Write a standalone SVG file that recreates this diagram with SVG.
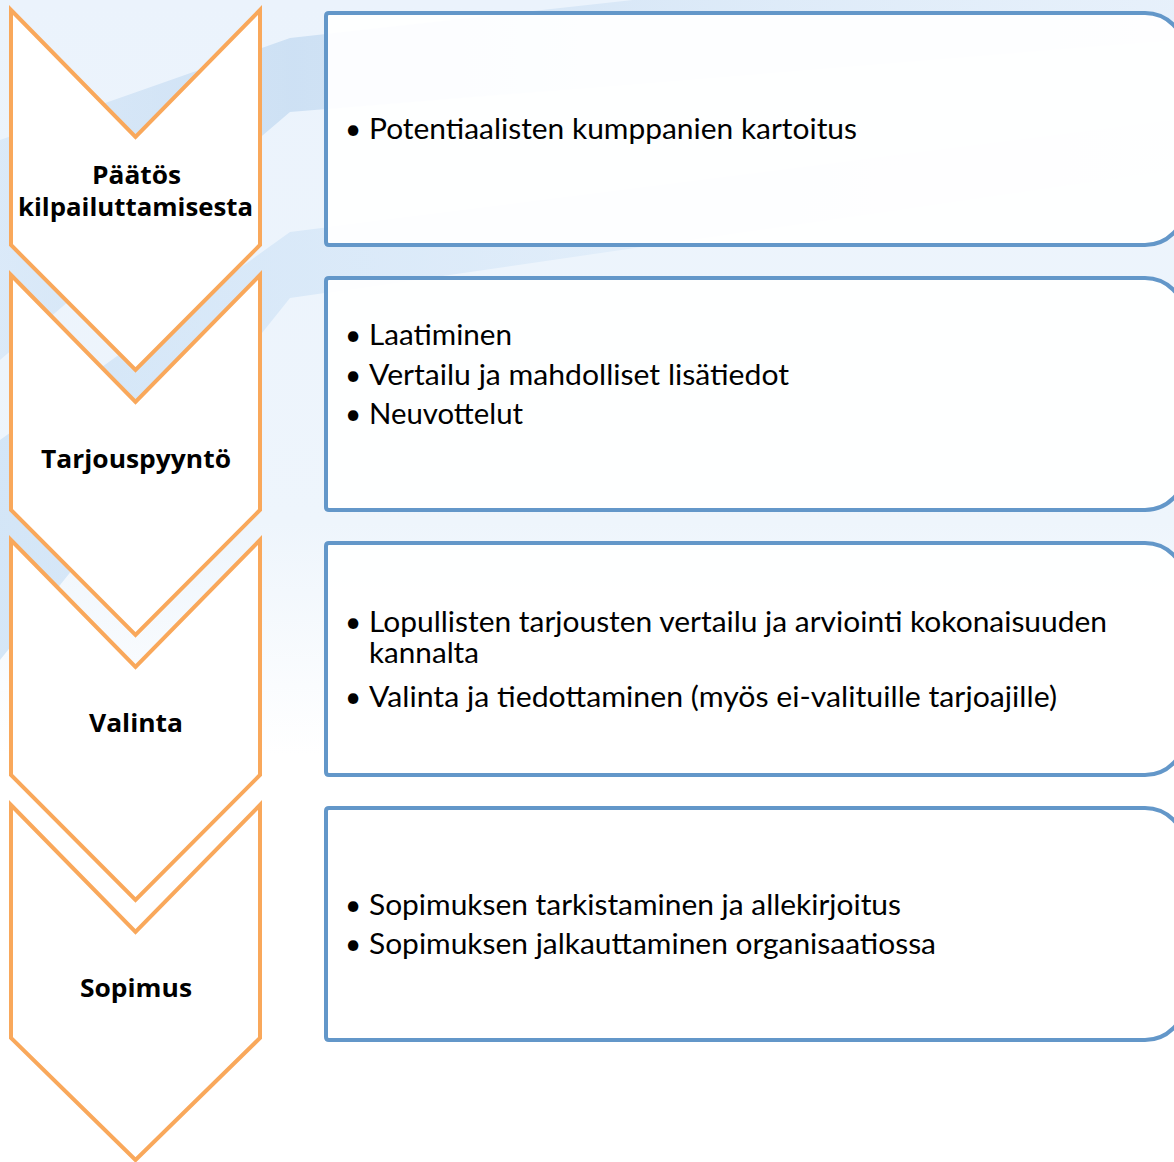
<svg xmlns="http://www.w3.org/2000/svg" width="1174" height="1162" viewBox="0 0 1174 1162">
<defs>
<linearGradient id="bg" x1="0" y1="0" x2="0" y2="1">
<stop offset="0" stop-color="#EBF3FC"/>
<stop offset="0.45" stop-color="#EEF5FC"/>
<stop offset="0.65" stop-color="#FFFFFF"/>
<stop offset="1" stop-color="#FFFFFF"/>
</linearGradient>
<linearGradient id="bandA" x1="0" y1="0" x2="1" y2="0">
<stop offset="0" stop-color="#D3E5F7" stop-opacity="0.7"/>
<stop offset="0.25" stop-color="#C6DCF2" stop-opacity="0.8"/>
<stop offset="1" stop-color="#DCEAF8" stop-opacity="0.3"/>
</linearGradient>
<linearGradient id="bandB" x1="0" y1="0" x2="1" y2="0">
<stop offset="0" stop-color="#CFE3F6" stop-opacity="0.85"/>
<stop offset="0.4" stop-color="#D6E7F8" stop-opacity="0.7"/>
<stop offset="1" stop-color="#E6F0FA" stop-opacity="0.3"/>
</linearGradient>
</defs>
<style>
.chev{fill:#FFFFFF;stroke:#F9A85B;stroke-width:4;stroke-linejoin:miter}
.box{fill:#FFFFFF;fill-opacity:0.93;stroke:#6397C9;stroke-width:4}
.lbl{font-family:"Open Sans","Liberation Sans",sans-serif;font-weight:bold;font-size:25px;fill:#000000}
.txt{font-family:Lato,"Liberation Sans",sans-serif;font-size:28px;fill:#000000}
</style>
<g id="background">
<rect x="0" y="0" width="1174" height="1162" fill="url(#bg)"/>
<path d="M0,140 L290,38 L1174,-60 L1174,40 L290,112 L0,360 Z" fill="url(#bandA)"/>
<path d="M0,440 L290,232 L1174,120 L1174,170 L290,298 L0,660 Z" fill="url(#bandB)"/>
</g>
<g id="connectors"/>
<g id="step1">
<path class="chev" d="M11,10 L135.5,137 L260,10 L260,245 L135.5,370 L11,245 Z"/>
<text class="lbl" x="92" y="184" textLength="89" lengthAdjust="spacingAndGlyphs">Päätös</text>
<text class="lbl" x="18" y="216" textLength="235" lengthAdjust="spacingAndGlyphs">kilpailuttamisesta</text>
</g>
<g id="step2">
<path class="chev" d="M11,275 L135.5,402 L260,275 L260,510 L135.5,635 L11,510 Z"/>
<text class="lbl" x="41" y="468" textLength="190" lengthAdjust="spacingAndGlyphs">Tarjouspyyntö</text>
</g>
<g id="step3">
<path class="chev" d="M11,540 L135.5,667 L260,540 L260,775 L135.5,900 L11,775 Z"/>
<text class="lbl" x="89" y="732" textLength="94" lengthAdjust="spacingAndGlyphs">Valinta</text>
</g>
<g id="step4">
<path class="chev" d="M11,805 L135.5,932 L260,805 L260,1038 L135.5,1160 L11,1038 Z"/>
<text class="lbl" x="80" y="997" textLength="112" lengthAdjust="spacingAndGlyphs">Sopimus</text>
</g>
<g id="detail1">
<path class="box" d="M329,13 H1145 A40,40 0 0 1 1185,53 V205 A40,40 0 0 1 1145,245 H329 Q326,245 326,242 V16 Q326,13 329,13 Z"/>
<text class="txt" x="345" y="139">•</text>
<text class="txt" x="369" y="139" textLength="488" lengthAdjust="spacingAndGlyphs">Potentiaalisten kumppanien kartoitus</text>
</g>
<g id="detail2">
<path class="box" d="M329,278 H1145 A40,40 0 0 1 1185,318 V470 A40,40 0 0 1 1145,510 H329 Q326,510 326,507 V281 Q326,278 329,278 Z"/>
<text class="txt" x="345" y="345">•</text>
<text class="txt" x="369" y="345" textLength="143" lengthAdjust="spacingAndGlyphs">Laatiminen</text>
<text class="txt" x="345" y="385">•</text>
<text class="txt" x="369" y="385" textLength="420" lengthAdjust="spacingAndGlyphs">Vertailu ja mahdolliset lisätiedot</text>
<text class="txt" x="345" y="424">•</text>
<text class="txt" x="369" y="424" textLength="154" lengthAdjust="spacingAndGlyphs">Neuvottelut</text>
</g>
<g id="detail3">
<path class="box" d="M329,543 H1145 A40,40 0 0 1 1185,583 V735 A40,40 0 0 1 1145,775 H329 Q326,775 326,772 V546 Q326,543 329,543 Z"/>
<text class="txt" x="345" y="632">•</text>
<text class="txt" x="369" y="632" textLength="738" lengthAdjust="spacingAndGlyphs">Lopullisten tarjousten vertailu ja arviointi kokonaisuuden</text>
<text class="txt" x="369" y="663" textLength="110" lengthAdjust="spacingAndGlyphs">kannalta</text>
<text class="txt" x="345" y="707">•</text>
<text class="txt" x="369" y="707" textLength="688" lengthAdjust="spacingAndGlyphs">Valinta ja tiedottaminen (myös ei-valituille tarjoajille)</text>
</g>
<g id="detail4">
<path class="box" d="M329,808 H1145 A40,40 0 0 1 1185,848 V1000 A40,40 0 0 1 1145,1040 H329 Q326,1040 326,1037 V811 Q326,808 329,808 Z"/>
<text class="txt" x="345" y="915">•</text>
<text class="txt" x="369" y="915" textLength="532" lengthAdjust="spacingAndGlyphs">Sopimuksen tarkistaminen ja allekirjoitus</text>
<text class="txt" x="345" y="954">•</text>
<text class="txt" x="369" y="954" textLength="567" lengthAdjust="spacingAndGlyphs">Sopimuksen jalkauttaminen organisaatiossa</text>
</g>
</svg>
